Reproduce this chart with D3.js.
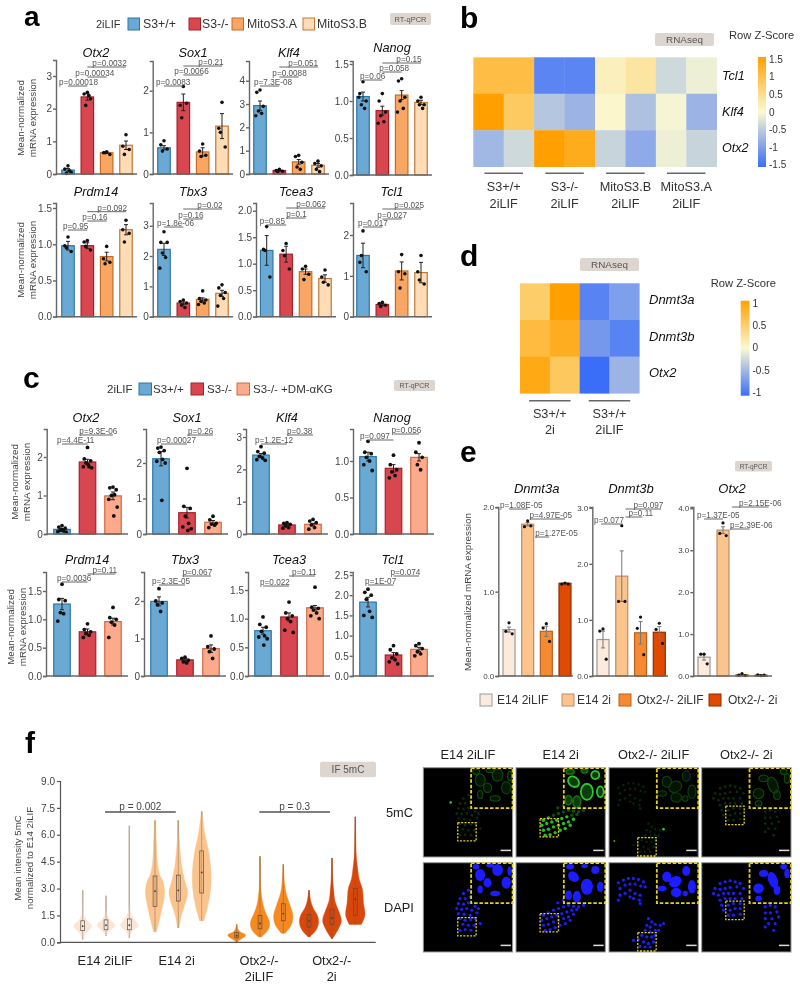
<!DOCTYPE html>
<html><head><meta charset="utf-8">
<script src="https://cdn.jsdelivr.net/npm/d3@7"></script>
<style>
html,body{margin:0;padding:0;background:#fff}
svg{display:block;filter:blur(0.5px)}
text{font-family:"Liberation Sans",Arial,sans-serif;fill:#333}
</style></head><body>
<svg id="fig" width="800" height="986"></svg>
<script>
// ---------- panel a data ----------
const aGroups=["S3+/+","S3-/-","MitoS3.A","MitoS3.B"];
const aGenes=["Otx2","Sox1","Klf4","Nanog","Prdm14","Tbx3","Tcea3","Tcl1"];
const aMeans=[[.12,2.36,.65,.88],[.63,1.72,.53,1.15],[2.93,.15,.52,.37],[1.06,.87,1.08,.98],
 [.98,.98,.83,1.2],[2.22,.45,.57,.77],[1.25,1.18,.85,.72],[1.5,.3,1.12,1.08]];
const aErrs=[[.05,.1,.02,.13],[.05,.2,.1,.3],[.2,.02,.1,.08],[.06,.06,.06,.03],
 [.06,.04,.06,.07],[.2,.04,.05,.1],[.28,.15,.05,.07],[.3,.03,.22,.25]];
const aPoints=[
 [[.25,.15,.05,.02,.1],[2.5,2.45,2.3,2.1,2.4],[.68,.65,.6,.65],[1.2,.85,.75,.6]],
 [[.8,.7,.6,.55],[2.1,1.65,1.7,1.35],[.72,.55,.45,.42],[1.72,1.1,.65,1.0]],
 [[3.6,3.5,2.9,2.7,2.6,2.5],[.2,.15,.12,.1],[.8,.75,.5,.3,.2],[.55,.45,.35,.2,.1]],
 [[1.26,1.1,1.0,.95,.9,1.05],[1.1,1.0,.85,.8,.72,.7],[1.3,1.27,1.05,1.0,.9,.85],[1.05,1,.95,.95,.9]],
 [[1.1,.98,.9,.95],[1.05,1.03,.92,.97],[.97,.8,.75,.73],[1.33,1.2,1.15,1.03]],
 [[2.8,2.45,2.45,2.1,1.95,1.6],[.55,.5,.45,.38,.3],[.85,.6,.55,.5,.45,.4],[1.05,.95,.8,.7,.6,.35]],
 [[1.7,1.27,.75,1.25],[1.38,1.25,.9,1.15],[.95,.9,.8,.7],[.88,.75,.6,.65]],
 [[2.1,1.33,1.1,1.5],[.35,.32,.28,.25],[1.52,1.1,1.05,.7],[1.5,1.1,.8,.9]]];
const aTicks=[[0,1,2,3],[0,1,2],[0,1,2,3,4],[0,.5,1,1.5],[0,.5,1,1.5],[0,1,2,3],[0,.5,1,1.5,2],[0,1,2]];
const aPText=[["p=0.00018","p=0.00034","p=0.0032"],["p=0.0083","p=0.0066","p=0.21"],["p=7.3E-08","p=0.0088","p=0.051"],
 ["p=0.06","p=0.058","p=0.15"],["p=0.95","p=0.16","p=0.092"],["p=1.8e-06","p=0.16","p=0.02"],["p=0.85","p=0.1","p=0.062"],["p=0.017","p=0.027","p=0.025"]];
// ---------- panel c data ----------
const cGroups=["S3+/+","S3-/-","S3-/- +DM-αKG"];
const cMeans=[[.12,1.87,.99],[2.12,.6,.33],[2.44,.28,.3],[1.06,.9,1.05],[1.27,.78,.96],[1.99,.43,.73],[.79,1.03,1.19],[1.83,.52,.66]];
const cErrs=[[.02,.07,.1],[.2,.15,.05],[.05,.03,.03],[.06,.05,.05],[.1,.05,.06],[.12,.03,.1],[.06,.07,.04],[.12,.06,.05]];
const cPoints=[
 [[.22,.18,.15,.1,.08,.06,.05,.1,.12],[2.25,1.95,1.9,1.85,1.75,1.75,1.72,1.8],[1.22,1.2,1.15,1.0,1.02,.9,.7,.47]],
 [[2.45,2.42,2.35,2.3,2.1,2.05,2.0,.95],[1.85,.78,.72,.5,.3,.2,.15,.1],[.5,.4,.3,.28,.25,.18]],
 [[2.7,2.55,2.5,2.4,2.35,2.3,2.28],[.35,.33,.3,.25,.2,.18],[.45,.4,.35,.28,.2,.15]],
 [[1.27,1.12,1.1,1.05,1.0,.95,.87],[1.08,.95,.88,.85,.8,.77],[1.25,1.12,1.05,.95,.88]],
 [[1.62,1.35,1.33,1.12,1.1,.97],[.92,.82,.78,.75,.72,.68],[1.21,1.03,1.0,.95,.9,.68]],
 [[2.33,2.0,1.95,1.9,1.72],[.5,.47,.42,.38,.35],[1.07,.78,.72,.65,.47]],
 [[1.03,.9,.85,.78,.7,.68,.65,.54],[1.29,1.1,1.05,1.0,.95,.8,.76],[1.55,1.2,1.18,1.15,1.1,1.05,1.0]],
 [[2.15,2.07,2.0,1.9,1.6,1.5,1.45],[.75,.65,.55,.45,.4,.35,.3],[.8,.75,.68,.6,.55,.5]]];
const cTicks=[[0,1,2],[0,1,2],[0,1,2,3],[0,.5,1],[0,.5,1,1.5],[0,1,2],[0,.5,1,1.5],[0,.5,1,1.5,2,2.5]];
const cPText=[["p=4.4E-11","p=9.3E-06"],["p=0.00027","p=0.26"],["p=1.2E-12","p=0.38"],["p=0.097","p=0.056"],
 ["p=0.0036","p=0.11"],["p=2.3E-05","p=0.067"],["p=0.022","p=0.11"],["p=1E-07","p=0.074"]];
// ---------- panel e data ----------
const eGroups=["E14 2iLIF","E14 2i","Otx2-/- 2iLIF","Otx2-/- 2i"];
const eGenes=["Dnmt3a","Dnmt3b","Otx2"];
const eMeans=[[.55,1.8,.53,1.1],[.65,1.78,.77,.78],[.45,3.48,.03,.02]];
const eErrs=[[.03,.02,.06,.005],[.15,.45,.2,.1],[.07,.08,.01,.01]];
const ePoints=[
 [[.63,.53,.5],[1.84,1.77,1.78],[.62,.57,.41],[1.1,1.09,1.09]],
 [[.84,.8,.3],[2.68,1.33,1.33],[1.05,.85,.38],[.94,.83,.58]],
 [[.52,.52,.29],[3.65,3.4,3.35],[.06,.02,.01],[.01,.03,.02]]];
const eTicks=[[0,1,2],[0,1,2,3],[0,1,2,3,4]];
const ePText=[["p=1.08E-05","p=4.97E-05","p=1.27E-05"],["p=0.077","p=0.097","p=0.11"],["p=1.37E-05","p=2.15E-06","p=2.39E-06"]];
// ---------- heatmaps ----------
const bRows=["Tcl1","Klf4","Otx2"];
const bCols=["S3+/+\n2iLIF","S3-/-\n2iLIF","MitoS3.B\n2iLIF","MitoS3.A\n2iLIF"];
const bZ=[[1,1,-1.25,-1.25,.15,.35,-.35,-.1],[1.5,.8,-.55,-.75,.05,-.6,-.05,-.75],[-.7,-.35,1.5,1.3,-.4,-.85,-.1,-.4]];
const bLegend=[1.5,1,.5,0,-.5,-1,-1.5];
const dRows=["Dnmt3a","Dnmt3b","Otx2"];
const dCols=["S3+/+\n2i","S3+/+\n2iLIF"];
const dZ=[[.5,1,-.85,-.65],[.7,.85,-.7,-.85],[.9,.55,-1,-.5]];
const dLegend=[1,.5,0,-.5,-1];
// ---------- panel f violins ----------
const fTicks=[0,1.5,3,4.5,6,7.5,9];
const fGroups=["E14 2iLIF","E14 2i","Otx2-/-\n2iLIF","Otx2-/-\n2i"];
const fQuart=[[.65,.9,1.2],[.7,.95,1.25],[.7,.95,1.3],[2,2.85,3.7],[2.3,2.9,3.75],[2.75,3.9,5.1],
 [.25,.37,.55],[.75,1.05,1.5],[1.2,1.6,2.15],[.85,1.2,1.55],[1,1.35,1.85],[1.5,2.4,3]];
const fDensity=[
 [[.15,0],[.5,.25],[.9,.75],[1.3,.25],[1.6,.05],[2.2,.02],[2.9,.01]],
 [[.35,.01],[.6,.25],[.95,.75],[1.3,.28],[1.7,.04],[2.6,.01]],
 [[.25,.01],[.6,.25],[.95,.75],[1.4,.28],[1.9,.04],[3,.01],[6.5,.01]],
 [[.6,.12],[1,.28],[1.5,.45],[2.2,.68],[2.8,.8],[3.4,.65],[3.8,.38],[4.5,.2],[5.5,.12],[6.8,.05]],
 [[.8,.06],[1.5,.25],[2.2,.6],[2.8,.78],[3.4,.55],[4.2,.3],[5,.17],[5.8,.07],[6.8,.02]],
 [[1.2,.18],[2,.5],[3,.75],[3.9,.78],[5,.6],[6,.28],[7.3,.02]],
 [[0,.02],[.15,.3],[.4,.75],[.6,.25],[.8,.06],[1,.02]],
 [[.3,.12],[.7,.68],[1.1,.8],[1.6,.5],[2.1,.25],[2.6,.13],[3.2,.05],[4.8,.02]],
 [[.5,.15],[1,.68],[1.5,.8],[2.1,.55],[2.7,.25],[3.3,.1],[4.35,.02]],
 [[.3,.06],[.7,.6],[1.1,.8],[1.5,.7],[1.9,.35],[2.3,.15],[2.9,.02]],
 [[.2,.03],[.7,.5],[1.2,.78],[1.7,.58],[2.3,.25],[3,.13],[3.5,.07],[4.7,.02]],
 [[1,.5],[1.5,.8],[2.2,.68],[3,.58],[3.5,.33],[4.2,.18],[5,.07],[7,.02]]];
const fPText=["p =  0.002","p =  0.3"];
// ---------- micrographs (readings in a 267-unit image frame) ----------
const imgCols=["E14 2iLIF","E14 2i","Otx2-/- 2iLIF","Otx2-/- 2i"];
const imgRows=["5mC","DAPI"];
const imgCells=[
 [[120,92],[135,82],[110,107],[125,107],[140,102],[105,122],[120,124],[135,120],[155,130],[100,137],[115,139],[130,137],[145,142],[165,137],[105,152],[122,154],[140,157],[160,150],[110,167],[125,172],[142,170],[155,167],[170,182],[118,184],[135,187],[152,187],[125,200],[142,202],[110,202]],
 [[82,157],[97,150],[112,142],[127,137],[142,132],[157,127],[172,130],[187,132],[202,127],[77,172],[92,167],[107,162],[122,157],[137,152],[152,147],[167,142],[182,140],[82,187],[97,184],[112,177],[127,172],[142,167],[157,162],[172,154],[87,202],[102,200],[117,194],[132,187],[147,182],[162,172],[142,112],[157,122],[125,120]],
 [[28,60],[43,52],[58,47],[73,47],[88,50],[103,57],[33,77],[48,67],[63,64],[78,64],[95,70],[108,72],[33,97],[48,92],[63,82],[78,92],[93,97],[28,112],[91,112],[93,122],[63,102],[73,107],[118,167],[128,177],[113,187],[123,192],[138,184],[153,187],[163,182],[108,202],[123,207],[138,202],[148,202],[98,217],[113,222],[128,222],[88,230],[103,237],[118,242],[133,237],[73,232],[93,250],[108,252],[123,252],[138,217]],
 [[55,62],[70,57],[85,54],[100,57],[115,62],[40,77],[55,80],[70,77],[85,74],[105,72],[125,77],[35,92],[50,97],[65,92],[80,92],[95,92],[115,92],[55,112],[70,107],[85,107],[100,107],[120,107],[60,127],[80,127],[95,122],[115,122],[65,142],[85,142],[100,137],[115,137],[80,157],[95,157],[115,154],[190,132],[205,127],[220,132],[190,150],[205,150],[225,147],[190,167],[210,167],[230,162],[200,182],[220,182],[190,192],[215,202]]];
const imgInsetCells=[
 [[170,37,15,18,0],[222,22,16,18,0],[192,60,12,14,0],[248,60,14,18,0],[170,80,8,12,0],[215,92,15,8,0],[158,12,10,8,0],[200,8,12,6,0],[258,25,6,14,0]],
 [[172,42,18,14,40],[212,72,18,24,0],[252,72,10,16,0],[237,22,12,12,0],[157,97,10,14,0],[182,102,12,18,0],[162,12,12,8,0],[205,10,10,6,0]],
 [[173,42,14,16,0],[231,25,12,15,0],[198,57,20,16,-30],[158,77,14,8,0],[201,89,16,14,0],[248,72,12,20,0],[228,92,8,8,0]],
 [[170,77,16,15,0],[213,52,14,25,-20],[225,82,10,14,0],[185,32,14,10,0],[255,32,8,14,0],[170,107,10,8,0],[245,12,10,8,0]]];
const imgROI=[[103,164],[72,152],[86,209],[72,115]];
const imgSpots=[[[82,104,3]],[],[[163,184,3],[16,219,2]],[]];

// ---------- layout ----------
const FONT_COLORS={axis:"#666",tick:"#444",p:"#555"};
const aFill=["#6aa9d3","#d8464f","#f9a664","#fddcb6"],aStroke=["#2d77a8","#a92029","#c86b22","#bd7a3a"];
const cFill=["#6aa9d3","#d8464f","#fbab8b"],cStroke=["#2d77a8","#a92029","#d06a45"];
const eFill=["#fcebdd","#fbc48c","#f68a33","#dd4a00"],eStroke=["#999","#b98c6a","#b8601e","#8f2d00"];
const vFill=["#fbe5d6","#fbc48c","#f68a20","#d9470a"];
const svg=d3.select("#fig");

const aLayout=[
 {ax:56,b0:68,b1:126,r:137,base:174,top:60,refV:3,refY:76,tx:96,ty:57,geom:[[0,1,26,-9],[1,2,17,-12],[1,3,7,5]]},
 {ax:152.7,b0:164,b1:222,r:233,base:174,top:61,refV:2,refY:90.7,tx:193,ty:57,geom:[[0,1,25,-8],[1,2,14,-9],[1,3,5,15]]},
 {ax:249,b0:260,b1:318,r:329,base:174,top:61,refV:4,refY:80.7,tx:289,ty:57,geom:[[0,1,25,-6],[1,2,16,-7],[1,3,6,9]]},
 {ax:352.7,b0:363,b1:421,r:432,base:175,top:61,refV:1.5,refY:64,tx:392,ty:52,geom:[[0,1,19,-3],[1,2,11,-3],[1,3,2,14]]},
 {ax:56,b0:68,b1:126,r:137,base:316.7,top:203,refV:1.5,refY:208,tx:96,ty:196,geom:[[0,1,27,-5],[1,2,18,-5],[1,3,8.7,10]]},
 {ax:152.7,b0:164,b1:222,r:233,base:316.7,top:203,refV:3,refY:225.7,tx:193,ty:196,geom:[[0,1,24,-7],[1,2,16,-5],[1,3,6,14]]},
 {ax:256,b0:266.7,b1:325,r:336,base:316.7,top:203,refV:2,refY:210.7,tx:296,ty:196,geom:[[0,1,22,-7],[1,2,15,0],[1,3,5,10]]},
 {ax:353,b0:363,b1:421,r:432,base:316.7,top:203,refV:2,refY:235,tx:392,ty:196,geom:[[0,1,24,-5],[1,2,16,-5],[1,3,6,12]]}];
const cLayout=[
 {ax:46.7,b0:62,b1:113,r:128,base:534,top:429,refV:2,refY:457,tx:86,ty:422,geom:[[0,1,15,-5],[.68,2,6,0]]},
 {ax:146,b0:161,b1:213,r:228,base:534,top:429,refV:2,refY:463,tx:187,ty:422,geom:[[0,1,15,-4],[1,2,6,1]]},
 {ax:246,b0:261,b1:313,r:328,base:534,top:429,refV:3,refY:437,tx:287,ty:422,geom:[[0,1,15,-6],[1,2,6,0]]},
 {ax:353,b0:368,b1:419,r:434,base:534,top:429,refV:1,refY:461,tx:392,ty:422,geom:[[0,1,11,-8],[1,2,5,-2]]},
 {ax:46,b0:62,b1:113,r:128,base:676,top:572,refV:1.5,refY:591,tx:87,ty:564,geom:[[0,1,10,-5],[1,2.1,2,5]]},
 {ax:144,b0:159,b1:211,r:226,base:676,top:572,refV:2,refY:601,tx:185,ty:564,geom:[[0,1,13,-7],[.9,2,4,0]]},
 {ax:248,b0:263,b1:315,r:330,base:676,top:572,refV:1.5,refY:590,tx:289,ty:564,geom:[[0,1,14,-3],[1,2,4,3]]},
 {ax:352.7,b0:368,b1:419,r:434,base:676,top:572,refV:2.5,refY:575,tx:393,ty:564,geom:[[0,1,13,-3],[1,2,4,-3]]}];
const eLayout=[
 {ax:498.3,b0:509,b1:565,r:573,base:676,top:507,refV:2,refY:507.3,tx:536.7,ty:493,geom:[[0,1,2,-9],[1.1,3,12,0],[1.4,2.15,30,0]]},
 {ax:592.3,b0:603,b1:659.3,r:668,base:676,top:507,refV:3,refY:507.7,tx:631,ty:493,geom:[[-.1,1.05,17,-7],[1.2,3.1,2,8],[1.2,2.1,10,3]]},
 {ax:693.3,b0:704,b1:761,r:772,base:676,top:507,refV:4,refY:508.3,tx:732,ty:493,geom:[[0,1,12,-7],[1.47,3.4,0,7],[1.37,2.4,22,0]]}];
const jitter=[0,-3.2,3.2,-1.6,1.6,-4.2,4.2,0.8,-.8];

function txt(x,y,s,o={}){
 return svg.append("text").attr("x",x).attr("y",y).text(s)
  .attr("font-size",o.size||10).attr("text-anchor",o.anchor||"start")
  .attr("font-style",o.italic?"italic":null).attr("font-weight",o.bold?"bold":null)
  .style("fill",o.fill||"#333").attr("transform",o.rot?`rotate(${o.rot} ${x} ${y})`:null)
  .attr("dominant-baseline",o.mid?"central":null);
}
function tag(x,y,w,h,s,size){
 svg.append("rect").attr("x",x).attr("y",y).attr("width",w).attr("height",h).attr("rx",2).attr("fill","#ddd6d0");
 txt(x+w/2,y+h/2,s,{size,anchor:"middle",mid:true,fill:"#555"});
}
function legend(xs,txs,y,labels,fill,stroke,size,w){
 labels.forEach((l,i)=>{
  svg.append("rect").attr("x",xs[i]).attr("y",y-6).attr("width",w).attr("height",12).attr("fill",fill[i]).attr("stroke",stroke[i]).attr("stroke-width",1);
  txt(txs[i],y,l,{size,mid:true});
 });
}
function barPanel(L,o){
 const n=o.means.length;
 const yr=d3.scaleLinear().domain([0,L.refV]).range([L.base,L.refY]);
 const y=d3.scaleLinear().domain([0,yr.invert(L.top)]).range([L.base,L.top]);
 const x=d3.scaleLinear().domain([0,n-1]).range([L.b0,L.b1]);
 const g=svg.append("g");
 g.selectAll("rect.bar").data(o.means).join("rect").attr("class","bar")
  .attr("x",(d,i)=>x(i)-o.bw/2).attr("width",o.bw)
  .attr("y",d=>y(d)).attr("height",d=>y(0)-y(d))
  .attr("fill",(d,i)=>o.fill[i]).attr("stroke",(d,i)=>o.stroke[i]).attr("stroke-width",1.2);
 o.means.forEach((m,i)=>{
  const hi=y(m+o.errs[i]),lo=y(m-o.errs[i]);
  g.append("path").attr("d",`M${x(i)-2},${hi}H${x(i)+2}M${x(i)},${hi}V${lo}M${x(i)-2},${lo}H${x(i)+2}`)
   .attr("fill","none").attr("stroke",o.errColor||"#222").attr("stroke-width",1);
  g.selectAll(null).data(o.pts[i]).join("circle")
   .attr("cx",(d,j)=>x(i)+jitter[j%jitter.length]).attr("cy",d=>y(d)).attr("r",o.r||1.8).attr("fill","#111");
 });
 const ax=d3.axisLeft(y).tickValues(o.ticks).tickSize(3).tickPadding(1)
  .tickFormat(d3.format(o.dec?".1f":"d"));
 const ag=g.append("g").attr("transform",`translate(${L.ax},0)`).call(ax);
 ag.selectAll("path,line").attr("stroke",FONT_COLORS.axis).attr("stroke-width",1.4);
 ag.selectAll("text").attr("font-size",o.tickSize||10).style("fill",FONT_COLORS.tick).attr("font-family",null);
 g.append("line").attr("x1",L.ax).attr("x2",L.r).attr("y1",L.base).attr("y2",L.base).attr("stroke",FONT_COLORS.axis).attr("stroke-width",1.4);
 txt(L.tx,L.ty,o.gene,{size:o.titleSize||12.7,italic:true,anchor:"middle",fill:"#111"});
 L.geom.forEach((p,i)=>{
  const [a,b,dy,dx]=p,ly=L.top+dy;
  g.append("line").attr("x1",x(a)).attr("x2",x(b)).attr("y1",ly).attr("y2",ly).attr("stroke","#666").attr("stroke-width",1);
  txt(x(a)+dx,ly-1,o.ptext[i],{size:o.pSize||8.2,fill:FONT_COLORS.p});
 });
}
const isDec=t=>t.some(v=>v%1!==0);
aGenes.forEach((gene,i)=>barPanel(aLayout[i],{gene,means:aMeans[i],errs:aErrs[i],pts:aPoints[i],ticks:aTicks[i],dec:isDec(aTicks[i]),ptext:aPText[i],fill:aFill,stroke:aStroke,bw:12.5}));
aGenes.forEach((gene,i)=>barPanel(cLayout[i],{gene,means:cMeans[i],errs:cErrs[i],pts:cPoints[i],ticks:cTicks[i],dec:isDec(cTicks[i]),ptext:cPText[i],fill:cFill,stroke:cStroke,bw:16.5,r:1.9}));
eGenes.forEach((gene,i)=>barPanel(eLayout[i],{gene,means:eMeans[i],errs:eErrs[i],pts:ePoints[i],ticks:eTicks[i],dec:true,ptext:ePText[i],fill:eFill,stroke:eStroke,bw:12,errColor:"#777",tickSize:8,r:1.6,pSize:8.2,titleSize:13}));

[[20,32,118],[20,32,260],[14,26,482],[10,22,627]].forEach(([x1,x2,cy])=>{
 txt(x1,cy,"Mean-normalized",{size:9.8,anchor:"middle",rot:-90,mid:true,fill:"#444"});
 txt(x2,cy,"mRNA expression",{size:9.8,anchor:"middle",rot:-90,mid:true,fill:"#444"});
});
txt(467,592,"Mean-normalized mRNA expression",{size:9.9,anchor:"middle",rot:-90,mid:true,fill:"#444"});
txt(96,24,"2iLIF",{size:11,mid:true});
legend([128,189,232,303],[143,202,247,317],24,aGroups,aFill,aStroke,12.3,11.5);
tag(390,13,41,12,"RT-qPCR",7.5);
txt(107,389,"2iLIF",{size:11.5,mid:true});
legend([139,191,237],[153,207,253],389,cGroups,cFill,cStroke,11.5,12.5);
tag(394,380,41,11,"RT-qPCR",7);
legend([480,562,619,709],[497,577,637,728],700,eGroups,eFill,eStroke,12,12);
tag(735,461,37,10.5,"RT-qPCR",6.5);

[["a",24,26,28],["b",460,28,30],["c",23,388,30],["d",460,266,30],["e",460,462,30],["f",25,753,30]].forEach(([s,x,y,size])=>
 txt(x,y,s,{size,bold:true,fill:"#000"}));

function heatmap(o){
 const nC=o.z[0].length,nR=o.z.length;
 const x=d3.scaleBand().domain(d3.range(nC)).range([o.x0,o.x1]);
 const y=d3.scaleBand().domain(d3.range(nR)).range([o.y0,o.y1]);
 const col=d3.scaleLinear().domain([-o.max,0,o.max]).range(["#3b6ef8","#fbf9d2","#ffa000"]);
 o.z.forEach((row,r)=>row.forEach((v,c)=>{
  svg.append("rect").attr("x",x(c)).attr("y",y(r)).attr("width",x.bandwidth()+.3).attr("height",y.bandwidth()+.3).attr("fill",col(v));
 }));
 o.rows.forEach((s,r)=>txt(o.rowX,y(r)+y.bandwidth()/2+o.rowDy,s,{size:o.rowSize,italic:true,mid:true,fill:"#111"}));
 const gw=(o.x1-o.x0)/o.cols.length;
 o.cols.forEach((s,i)=>{
  const cx=o.x0+gw*(i+.5);
  svg.append("line").attr("x1",cx-o.lineW/2).attr("x2",cx+o.lineW/2).attr("y1",o.lineY).attr("y2",o.lineY).attr("stroke","#666").attr("stroke-width",1.5);
  s.split("\n").forEach((t,k)=>txt(cx,o.labelY[k],t,{size:12.7,anchor:"middle",mid:true,fill:"#333"}));
 });
 const cb=d3.scaleLinear().domain([-o.max,o.max]).range([o.by1,o.by0]);
 const id="grad"+o.max;
 const gr=svg.append("defs").append("linearGradient").attr("id",id).attr("x1",0).attr("x2",0).attr("y1",1).attr("y2",0);
 [0,.5,1].forEach(t=>gr.append("stop").attr("offset",t).attr("stop-color",col(-o.max+2*o.max*t)));
 svg.append("rect").attr("x",o.bx).attr("y",o.by0).attr("width",o.bw).attr("height",o.by1-o.by0).attr("fill",`url(#${id})`);
 o.legend.forEach(v=>txt(o.bx+o.bw+3,cb(v)*o.tA+o.tB,String(v),{size:10,mid:true}));
 txt(o.zx,o.zy,"Row Z-Score",{size:11.2,mid:true,fill:"#333"});
}
heatmap({z:bZ,rows:bRows,cols:bCols,x0:473.3,x1:716.7,y0:57.3,y1:166.7,max:1.5,rowX:722,rowDy:0,rowSize:12.6,lineY:173.3,lineW:38.5,labelY:[187,204],bx:758,bw:8,by0:57,by1:167,legend:bLegend,tA:.96,tB:4.5,zx:729,zy:35});
heatmap({z:dZ,rows:dRows,cols:dCols,x0:520,x1:639.3,y0:283.3,y1:393.3,max:1,rowX:649,rowDy:-2,rowSize:13,lineY:400.7,lineW:41.5,labelY:[414,430],bx:740.7,bw:8.8,by0:300.7,by1:395.7,legend:dLegend,tA:.94,tB:20.5,zx:710.7,zy:282.7});
tag(655,33,59,13,"RNAseq",9.9);
tag(580,258,59,13,"RNAseq",9.9);

(function(){
 const y=d3.scaleLinear().domain([0,9]).range([942.3,781]);
 const cx=[82.7,106,129.3,155,178.3,201.7,236.7,260,283.3,309,332,355.3];
 const w=d3.scaleLinear().domain([0,1]).range([0,12]);
 const g=svg.append("g");
 fDensity.forEach((dens,i)=>{
  const vg=g.append("g");
  const c=cx[i],fc=vFill[Math.floor(i/3)];
  const lo=dens[0][0],hi=dens[dens.length-1][0];
  vg.append("line").attr("x1",c).attr("x2",c).attr("y1",y(lo)).attr("y2",y(hi))
   .attr("stroke",i<3?"#c2b9b0":"#a08a78").attr("stroke-width",1.5);
  const area=d3.area().curve(d3.curveCatmullRom).y(d=>y(d[0])).x0(d=>c-w(d[1])).x1(d=>c+w(d[1]));
  vg.append("path").datum(dens).attr("d",area).attr("fill",fc).attr("stroke",fc).attr("stroke-width",.4);
  vg.append("line").attr("x1",c).attr("x2",c).attr("y1",y(lo)).attr("y2",y(hi))
   .attr("stroke","#6e5a4a").attr("stroke-opacity",.5).attr("stroke-width",.8);
  const [q1,m,q3]=fQuart[i];
  vg.append("rect").attr("x",c-1.9).attr("width",3.8).attr("y",y(q3)).attr("height",y(q1)-y(q3))
   .attr("fill",i<3?"#fff":"none").attr("fill-opacity",.6).attr("stroke","#5c4a3c").attr("stroke-width",.7);
  vg.append("circle").attr("cx",c).attr("cy",y(m)).attr("r",.9).attr("fill","#4a3a30");
 });
 const ag=g.append("g").attr("transform","translate(60,0)")
  .call(d3.axisLeft(y).tickValues(fTicks).tickSize(3).tickPadding(2).tickFormat(d3.format(".1f")));
 ag.selectAll("path,line").attr("stroke","#555").attr("stroke-width",1.2);
 ag.selectAll("text").attr("font-size",10).style("fill","#444").attr("font-family",null);
 g.append("line").attr("x1",60).attr("x2",375.7).attr("y1",y(0)).attr("y2",y(0)).attr("stroke","#555").attr("stroke-width",1.3);
 [[105,175.7,fPText[0]],[259.3,330,fPText[1]]].forEach(([a,b,s])=>{
  g.append("line").attr("x1",a).attr("x2",b).attr("y1",812).attr("y2",812).attr("stroke","#555").attr("stroke-width",1.3);
  txt((a+b)/2,806.5,s,{size:10,anchor:"middle",mid:true,fill:"#444"});
 });
 [105,176.7,259,331.7].forEach((x,i)=>{
  fGroups[i].split("\n").forEach((s,k)=>txt(x,960.7+16*k,s,{size:12.8,anchor:"middle",mid:true,fill:"#222"}));
 });
 txt(17,858,"Mean intensity 5mC",{size:9.7,anchor:"middle",rot:-90,mid:true,fill:"#444"});
 txt(29,858,"normalized to E14 2iLIF",{size:9.7,anchor:"middle",rot:-90,mid:true,fill:"#444"});
 tag(320,761.7,56,15.6,"IF 5mC",10);
})();

(function(){
 const colX=[423.3,516,609,701.7],rowY=[767.7,862.7],S=89.3;
 const u=d3.scaleLinear().domain([0,267]).range([0,S]);
 const glow=svg.append("defs").append("filter").attr("id","soft").attr("x","-10%").attr("y","-10%").attr("width","120%").attr("height","120%");
 glow.append("feGaussianBlur").attr("stdDeviation",.35);
 const greenCell=["#0a2a0a","#24c024","#072007","#0a2c0a"],greenIn=["#0f4a0f","#2bc82b","#0d3f0d","#0f4a0f"];
 imgCols.forEach((label,c)=>{
  txt(colX[c]+S/2,754,label,{size:12.8,anchor:"middle",mid:true,fill:"#222"});
  imgRows.forEach((rowName,r)=>{
   const g=svg.append("g").attr("transform",`translate(${colX[c]},${rowY[r]})`);
   g.append("rect").attr("width",S).attr("height",S).attr("fill","#000").attr("stroke","#999").attr("stroke-width",1);
   const cg=g.append("g").attr("filter","url(#soft)");
   const blue=r===1;
   cg.selectAll(null).data(imgCells[c]).join("circle")
    .attr("cx",d=>u(d[0])).attr("cy",d=>u(d[1])).attr("r",blue?1.6:(c===1?1.7:1.4))
    .attr("fill",blue?"#1c1cff":greenCell[c])
    .attr("fill-opacity",d=>(!blue&&c===1&&d[1]<145)?.4:1);
   if(!blue) cg.selectAll(null).data(imgSpots[c]).join("circle")
    .attr("cx",d=>u(d[0])).attr("cy",d=>u(d[1])).attr("r",d=>d[2]*.45).attr("fill","#25d025");
   const ig=g.append("g");
   ig.append("rect").attr("x",u(143)).attr("y",u(1)).attr("width",u(124)).attr("height",u(120)).attr("fill","#000");
   ig.selectAll(null).data(imgInsetCells[c]).join("ellipse")
    .attr("transform",d=>`translate(${u(d[0])},${u(d[1])}) rotate(${d[4]})`)
    .attr("rx",d=>u(d[2])).attr("ry",d=>u(d[3]))
    .attr("fill",blue?"#1c1cff":greenIn[c]).attr("fill-opacity",blue?1:.3)
    .attr("stroke",blue?"none":greenIn[c]).attr("stroke-width",c===1?1.8:1.1)
    .attr("stroke-opacity",(d,i)=>(!blue&&c===1&&i>3)?.4:1);
   ig.append("rect").attr("x",u(143)).attr("y",u(1)).attr("width",u(124)).attr("height",u(120))
    .attr("fill","none").attr("stroke","#e6d21e").attr("stroke-width",1.8).attr("stroke-dasharray","3.5 1.8");
   const [rx,ry]=imgROI[c];
   g.append("rect").attr("x",u(rx)).attr("y",u(ry)).attr("width",u(55)).attr("height",u(55))
    .attr("fill","none").attr("stroke","#e6d21e").attr("stroke-width",1.3).attr("stroke-dasharray","2 1.4");
   g.append("rect").attr("x",u(231)).attr("y",u(245)).attr("width",u(31)).attr("height",u(4.5)).attr("fill","#ddd");
  });
 });
 txt(386,812.7,imgRows[0],{size:12.8,mid:true,fill:"#222"});
 txt(384,907.7,imgRows[1],{size:12.8,mid:true,fill:"#222"});
})();
</script>
</body></html>
